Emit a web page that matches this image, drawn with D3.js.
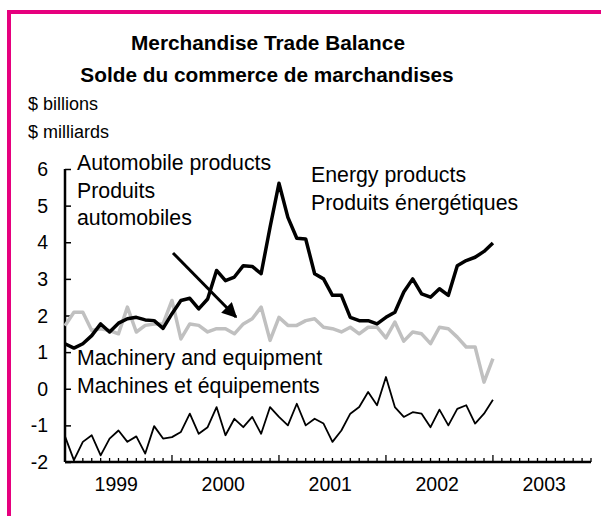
<!DOCTYPE html>
<html>
<head>
<meta charset="utf-8">
<script src="https://cdn.jsdelivr.net/npm/d3@7"></script>
<style>
  body { margin: 0; background: #fff; }
  svg text { font-family: "Liberation Sans", Arial, sans-serif; fill: #000; }
</style>
</head>
<body>
<div id="chart"></div>
<script>
// monthly, Jan 1999 .. Jan 2003
var energy = [1.23, 1.11, 1.23, 1.45, 1.77, 1.55, 1.79, 1.91, 1.95, 1.88, 1.86, 1.65,
	2.05, 2.41, 2.47, 2.18, 2.45, 3.23, 2.95, 3.05, 3.36, 3.34, 3.14, 4.41,
	5.61, 4.68, 4.11, 4.09, 3.14, 3.0, 2.55, 2.55, 1.95, 1.86, 1.86, 1.77,
	1.95, 2.09, 2.64, 3.0, 2.59, 2.5, 2.73, 2.55, 3.36, 3.5, 3.59, 3.75, 3.98];
var auto = [1.72, 2.09, 2.09, 1.59, 1.64, 1.59, 1.5, 2.23, 1.55, 1.73, 1.77, 1.77,
	2.41, 1.36, 1.77, 1.73, 1.55, 1.64, 1.64, 1.5, 1.77, 1.91, 2.23, 1.32,
	1.95, 1.73, 1.73, 1.86, 1.91, 1.68, 1.64, 1.55, 1.68, 1.5, 1.68, 1.68,
	1.39, 1.82, 1.3, 1.55, 1.5, 1.23, 1.68, 1.64, 1.41, 1.14, 1.14, 0.18, 0.82];
var machinery = [-1.3, -1.95, -1.45, -1.27, -1.82, -1.36, -1.14, -1.45, -1.3, -1.77, -1.02, -1.36,
	-1.32, -1.18, -0.68, -1.23, -1.05, -0.5, -1.27, -0.82, -1.05, -0.77, -1.23, -0.5,
	-0.77, -1.0, -0.41, -1.0, -0.82, -0.95, -1.45, -1.14, -0.68, -0.5, -0.09, -0.45,
	0.32, -0.5, -0.77, -0.64, -0.68, -1.05, -0.57, -1.0, -0.55, -0.45, -0.95, -0.68, -0.3];
var years = [1999, 2000, 2001, 2002, 2003];
var yTicks = [-2, -1, 0, 1, 2, 3, 4, 5, 6];
var nMonths = 60;

var width = 601, height = 516;
var margin = {top: 169, right: 9, bottom: 54, left: 65};

var svg = d3.select("#chart").append("svg")
	.attr("width", width)
	.attr("height", height);

// magenta frame (top and left)
svg.append("rect").attr("x", 7).attr("y", 10).attr("width", width - 7).attr("height", 4).attr("fill", "#e6007e");
svg.append("rect").attr("x", 7).attr("y", 10).attr("width", 4).attr("height", height - 10).attr("fill", "#e6007e");

var x = d3.scaleLinear().domain([0, nMonths - 1]).range([margin.left, width - margin.right - 1]);
var y = d3.scaleLinear().domain([-2, 6]).range([height - margin.bottom, margin.top]);

svg.append("text").attr("x", 268).attr("y", 50).attr("text-anchor", "middle")
	.style("font-size", "20.8px").style("font-weight", "bold").text("Merchandise Trade Balance");
svg.append("text").attr("x", 267).attr("y", 82).attr("text-anchor", "middle")
	.style("font-size", "20.8px").style("font-weight", "bold").text("Solde du commerce de marchandises");
svg.append("text").attr("x", 28).attr("y", 110).style("font-size", "18px").text("$ billions");
svg.append("text").attr("x", 28).attr("y", 138).style("font-size", "18px").text("$ milliards");

// y axis
var yAxis = svg.append("g").attr("transform", "translate(" + margin.left + ",0)")
	.call(d3.axisRight(y).tickValues(yTicks).tickSize(6).tickFormat(""));
yAxis.select(".domain").attr("stroke-width", 2.5).attr("d", "M0," + y(6) + "V" + y(-2));
yAxis.selectAll(".tick line").attr("stroke-width", 1.5);
svg.selectAll(".ylab").data(yTicks).enter().append("text")
	.attr("x", 48).attr("y", function(d){ return y(d) + 7; })
	.attr("text-anchor", "end").style("font-size", "19.5px")
	.text(function(d){ return d; });

// x axis: monthly ticks, taller at each January
var months = d3.range(nMonths);
var xAxis = svg.append("g").attr("transform", "translate(0," + y(-2) + ")");
xAxis.append("line").attr("x1", x(0)).attr("x2", x(nMonths - 1))
	.attr("stroke", "#000").attr("stroke-width", 2.5);
xAxis.selectAll(".mt").data(months).enter().append("line")
	.attr("x1", function(d){ return x(d); }).attr("x2", function(d){ return x(d); })
	.attr("y1", 0).attr("y2", function(d){ return d % 12 === 0 ? -7 : -4; })
	.attr("stroke", "#000").attr("stroke-width", 1.3);
xAxis.selectAll(".xl").data(years).enter().append("text")
	.attr("x", function(d, i){ return x(i * 12 + 5.75); })
	.attr("y", 29).attr("text-anchor", "middle").style("font-size", "19.5px")
	.text(function(d){ return d; });

var line = d3.line().x(function(d, i){ return x(i); }).y(function(d){ return y(d); });

svg.append("path").datum(auto).attr("d", line)
	.attr("fill", "none").attr("stroke", "#c0c0c0").attr("stroke-width", 3.5).attr("stroke-linejoin", "round");
svg.append("path").datum(energy).attr("d", line)
	.attr("fill", "none").attr("stroke", "#000").attr("stroke-width", 3.5).attr("stroke-linejoin", "round");
svg.append("path").datum(machinery).attr("d", line)
	.attr("fill", "none").attr("stroke", "#000").attr("stroke-width", 1.8).attr("stroke-linejoin", "round");

// labels
function label(lines, lx, ly) {
	lines.forEach(function(t, i){
		svg.append("text").attr("x", lx).attr("y", ly + i * 27.5).style("font-size", "21.3px").text(t);
	});
}
label(["Automobile products", "Produits", "automobiles"], 77, 170);
label(["Energy products", "Produits énergétiques"], 311, 182);
label(["Machinery and equipment", "Machines et équipements"], 77, 365);

// arrow to the automobile series
svg.append("defs").append("marker").attr("id", "ah")
	.attr("viewBox", "0 0 10 10").attr("refX", 9).attr("refY", 5)
	.attr("markerWidth", 5.5).attr("markerHeight", 5).attr("orient", "auto")
	.append("path").attr("d", "M0,0L10,5L0,10z").attr("fill", "#000");
svg.append("line").attr("x1", 173).attr("y1", 253).attr("x2", 236).attr("y2", 317)
	.attr("stroke", "#000").attr("stroke-width", 3).attr("marker-end", "url(#ah)");
</script>
</body>
</html>
